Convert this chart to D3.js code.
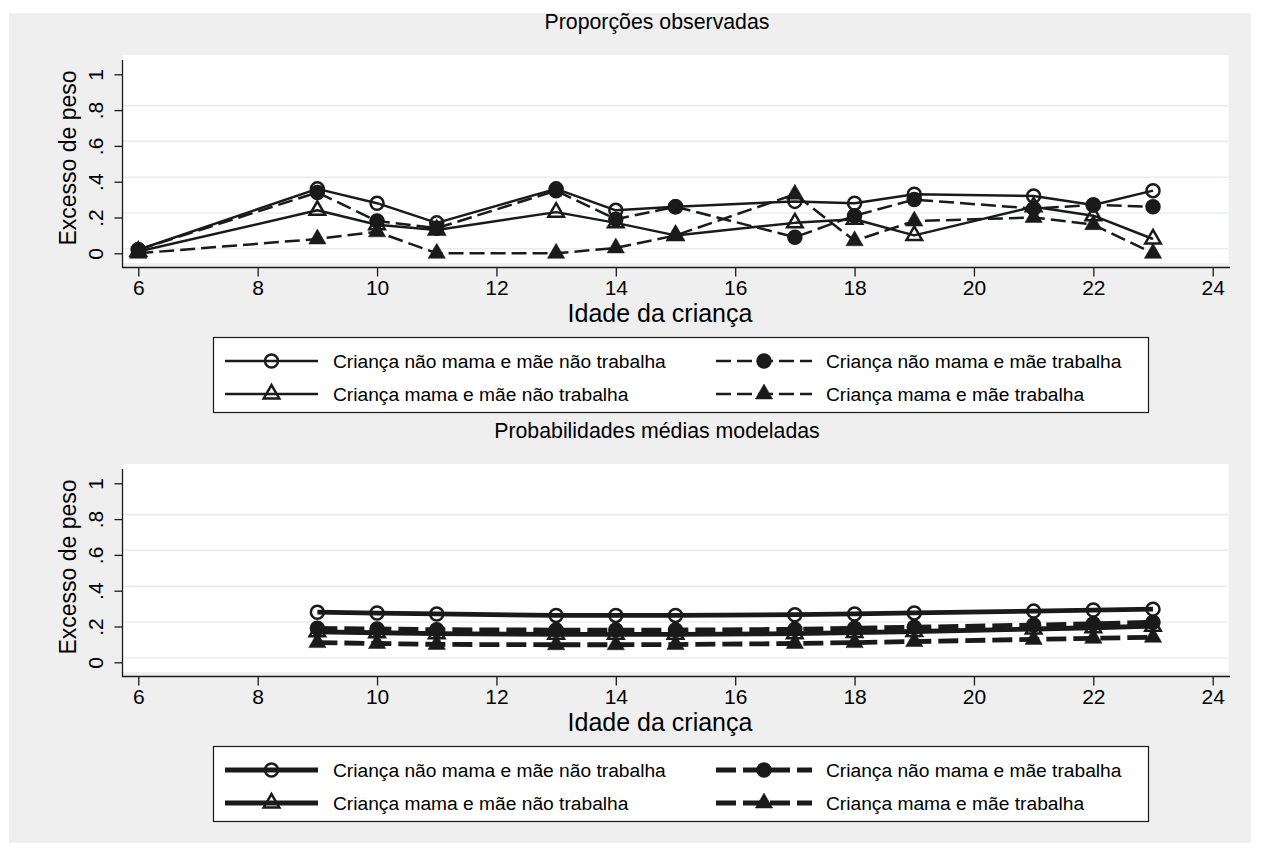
<!DOCTYPE html>
<html><head><meta charset="utf-8">
<script src="https://cdn.jsdelivr.net/npm/d3@7"></script>
<style>
body{margin:0;background:#fff}
text{font-family:"Liberation Sans",Arial,sans-serif;fill:#000}
</style>
</head><body>
<svg id="chart" width="1262" height="857"></svg>
<script>
// ---------------- data ----------------
const obsAges = [6, 9, 10, 11, 13, 14, 15, 17, 18, 19, 21, 22, 23];
const obsNaoMamaNaoTrab = [0.02, 0.36, 0.28, 0.17, 0.36, 0.24, 0.26, 0.29, 0.28, 0.33, 0.32, 0.27, 0.35];
const obsNaoMamaTrab    = [0.02, 0.34, 0.18, 0.14, 0.35, 0.19, 0.26, 0.09, 0.21, 0.30, 0.25, 0.27, 0.26];
const obsMamaNaoTrab    = [0.01, 0.24, 0.16, 0.13, 0.23, 0.17, 0.10, 0.17, 0.19, 0.10, 0.26, 0.21, 0.08];
const obsMamaTrab       = [0.00, 0.08, 0.12, 0.00, 0.00, 0.03, 0.10, 0.33, 0.07, 0.18, 0.20, 0.16, 0.00];

const modAges = [9, 10, 11, 13, 14, 15, 17, 18, 19, 21, 22, 23];
const modNaoMamaNaoTrab = [0.28, 0.275, 0.27, 0.262, 0.262, 0.262, 0.266, 0.27, 0.276, 0.286, 0.292, 0.297];
const modNaoMamaTrab    = [0.19, 0.186, 0.182, 0.18, 0.18, 0.18, 0.184, 0.19, 0.196, 0.208, 0.215, 0.224];
const modMamaNaoTrab    = [0.17, 0.165, 0.16, 0.156, 0.156, 0.156, 0.16, 0.166, 0.172, 0.186, 0.193, 0.202];
const modMamaTrab       = [0.11, 0.105, 0.10, 0.098, 0.098, 0.099, 0.105, 0.11, 0.116, 0.128, 0.134, 0.14];

const xTicks = [6, 8, 10, 12, 14, 16, 18, 20, 22, 24];
const yTicks = [0, 0.2, 0.4, 0.6, 0.8, 1];
const yTickLabels = ["0", ".2", ".4", ".6", ".8", "1"];
const gridValues = [0, 0.2, 0.4, 0.6, 0.8];
const legendLabels = [
  "Criança não mama e mãe não trabalha",
  "Criança não mama e mãe trabalha",
  "Criança mama e mãe não trabalha",
  "Criança mama e mãe trabalha"
];
const panelTitles = ["Proporções observadas", "Probabilidades médias modeladas"];
const xTitle = "Idade da criança";
const yTitle = "Excesso de peso";

// ---------------- layout ----------------
const svg = d3.select("#chart");
const INK = "#1a1a1a";
const FONT = '"Liberation Sans",Arial,sans-serif';
svg.append("rect").attr("x", 9).attr("y", 13).attr("width", 1242).attr("height", 830).attr("fill", "#efefef");

const styles = [
  {marker: "circle", filled: false, dashed: false},
  {marker: "circle", filled: true, dashed: true},
  {marker: "triangle", filled: false, dashed: false},
  {marker: "triangle", filled: true, dashed: true}
];

const panels = [
  {ages: obsAges, series: [obsNaoMamaNaoTrab, obsNaoMamaTrab, obsMamaNaoTrab, obsMamaTrab], dy: 0, lw: 2.5, dash: "15,6", r: 6.5, tri: 105, mstroke: 2.5},
  {ages: modAges, series: [modNaoMamaNaoTrab, modNaoMamaTrab, modMamaNaoTrab, modMamaTrab], dy: 409, lw: 4.8, dash: "20,7", r: 6.5, tri: 105, mstroke: 2.5}
];

function drawMarker(g, st, cx, cy, p) {
  if (st.marker === "circle") {
    g.append("circle").attr("cx", cx).attr("cy", cy).attr("r", p.r)
      .attr("fill", st.filled ? INK : "none").attr("stroke", INK).attr("stroke-width", p.mstroke);
  } else {
    const path = d3.symbol().type(d3.symbolTriangle).size(st.filled ? p.tri + 25 : p.tri)();
    g.append("path").attr("d", path).attr("transform", `translate(${cx},${cy})`)
      .attr("fill", st.filled ? INK : "none").attr("stroke", INK).attr("stroke-width", st.filled ? 0.5 : p.mstroke)
      .attr("stroke-linejoin", "miter");
  }
}

panels.forEach((p, pi) => {
  const dy = p.dy;
  const x = d3.scaleLinear().domain([6, 24]).range([138.3, 1212.7]);
  const y = d3.scaleLinear().domain([0, 1]).range([253.3 + dy, 74.3 + dy]);
  const g = svg.append("g");

  // plot region
  g.append("rect").attr("x", 122.5).attr("y", 55 + dy).attr("width", 1106).attr("height", 208).attr("fill", "#fff");
  g.selectAll(".grid").data(gridValues).join("line")
    .attr("x1", 123).attr("x2", 1228)
    .attr("y1", d => y(d) - 4.5).attr("y2", d => y(d) - 4.5)
    .attr("stroke", "#e7eef0").attr("stroke-width", 1.6);

  // axes
  const xa = g.append("g").attr("transform", `translate(0,${267.5 + dy})`)
    .call(d3.axisBottom(x).tickValues(xTicks).tickSize(9).tickPadding(4).tickFormat(d3.format("d")));
  xa.select(".domain").remove();
  xa.selectAll(".tick line").attr("stroke", INK).attr("stroke-width", 1.3);
  xa.selectAll(".tick text").attr("font-size", 21).attr("font-family", FONT).attr("fill", "#000");
  g.append("line").attr("x1", 122).attr("x2", 1230).attr("y1", 267.5 + dy).attr("y2", 267.5 + dy).attr("stroke", INK).attr("stroke-width", 1.3);

  const ya = g.append("g").attr("transform", `translate(122.5,0)`)
    .call(d3.axisLeft(y).tickValues(yTicks).tickSize(8).tickFormat((d, i) => yTickLabels[i]));
  ya.select(".domain").remove();
  ya.selectAll(".tick line").attr("stroke", INK).attr("stroke-width", 1.3);
  ya.selectAll(".tick text").attr("font-size", 21).attr("font-family", FONT).attr("fill", "#000")
    .attr("x", null).attr("dy", null)
    .attr("text-anchor", "middle").attr("dominant-baseline", "central")
    .attr("transform", "translate(-27.5,0) rotate(-90)");
  g.append("line").attr("x1", 122.5).attr("x2", 122.5).attr("y1", 60 + dy).attr("y2", 268 + dy).attr("stroke", INK).attr("stroke-width", 1.3);

  // titles
  g.append("text").attr("x", 657).attr("y", 22 + dy).attr("text-anchor", "middle").attr("dominant-baseline", "central")
    .attr("font-size", 21.3).text(panelTitles[pi]);
  g.append("text").attr("x", 660).attr("y", 313 + dy).attr("text-anchor", "middle").attr("dominant-baseline", "central")
    .attr("font-size", 25).text(xTitle);
  g.append("text").attr("transform", `translate(68,${158 + dy}) rotate(-90)`).attr("text-anchor", "middle").attr("dominant-baseline", "central")
    .attr("font-size", 23).text(yTitle);

  // series
  const line = d3.line().x(d => x(d[0])).y(d => y(d[1]));
  p.series.forEach((vals, si) => {
    const st = styles[si];
    const pts = p.ages.map((a, i) => [a, vals[i]]);
    g.append("path").attr("d", line(pts)).attr("fill", "none").attr("stroke", INK)
      .attr("stroke-width", p.lw).attr("stroke-dasharray", st.dashed ? p.dash : null).attr("stroke-linejoin", "round");
    const mg = g.append("g");
    pts.forEach(d => drawMarker(mg, st, x(d[0]), y(d[1]), p));
  });

  // legend
  const lg = g.append("g");
  lg.append("rect").attr("x", 213.5).attr("y", 337.5 + dy).attr("width", 935).attr("height", 75)
    .attr("fill", "#fff").attr("stroke", INK).attr("stroke-width", 1.2);
  const cols = [{x1: 225, x2: 318, tx: 333}, {x1: 716, x2: 812, tx: 826}];
  const rows = [361 + dy, 394 + dy];
  styles.forEach((st, si) => {
    const c = cols[si % 2], ry = rows[Math.floor(si / 2)];
    lg.append("line").attr("x1", c.x1).attr("x2", c.x2).attr("y1", ry).attr("y2", ry).attr("stroke", INK)
      .attr("stroke-width", p.lw).attr("stroke-dasharray", st.dashed ? p.dash : null);
    drawMarker(lg, st, (c.x1 + c.x2) / 2, ry, p);
    lg.append("text").attr("x", c.tx).attr("y", ry).attr("dominant-baseline", "central").attr("font-size", 19.2).text(legendLabels[si]);
  });
});
</script>
</body></html>
